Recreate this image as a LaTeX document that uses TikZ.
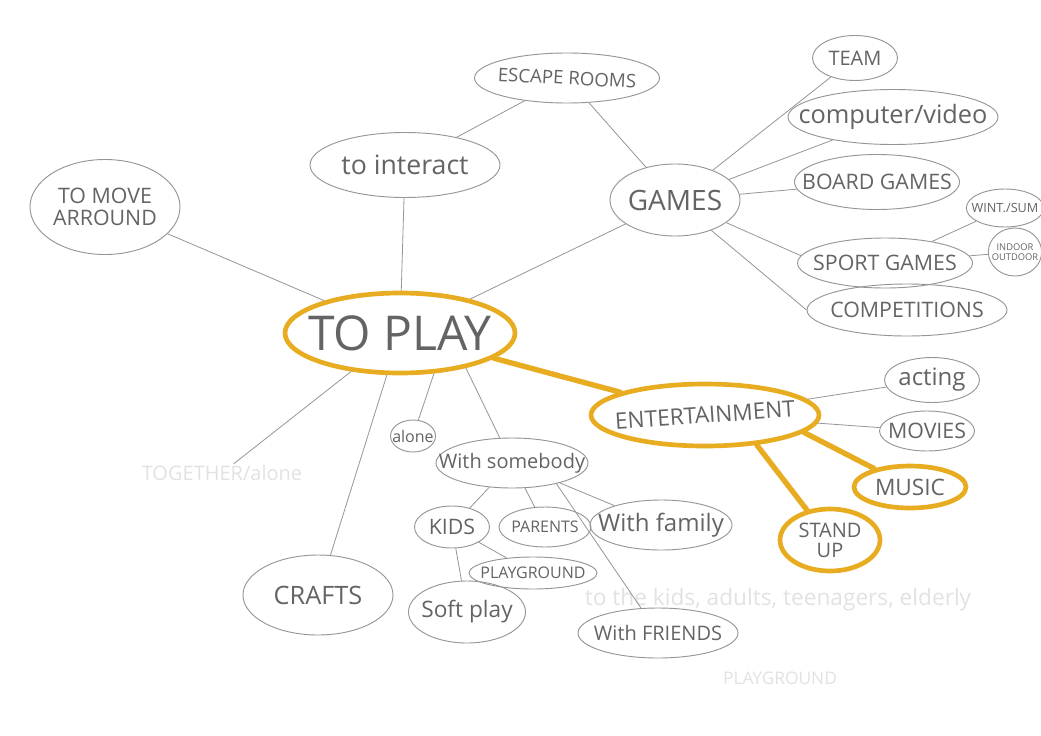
\documentclass[tikz,border=0pt]{standalone}
\usepackage{fontspec}
\setmainfont{Open Sans}
\usetikzlibrary{shapes.geometric}

\definecolor{pencil}{RGB}{150,150,150}
\definecolor{lead}{RGB}{100,100,100}
\definecolor{marker}{RGB}{232,172,32}
\definecolor{erased}{RGB}{226,226,226}
\newcommand{\pen}[1]{\fontsize{#1}{#1}\selectfont}

\tikzset{every picture/.style={line width=0.75pt}}
\tikzset{
  bubble/.style={ellipse, draw=pencil, line width=0.7pt, inner sep=0pt},
  hot/.style={bubble, draw=marker, line width=3.5pt},
  tag/.style={text=lead, align=center, inner sep=0pt},
  twig/.style={draw=pencil, line width=0.6pt},
  branch/.style={draw=marker, line width=4pt, line cap=round},
  ghost/.style={text=erased, inner sep=0.75pt},
}

\begin{document}
\begin{tikzpicture}[x=0.75pt,y=0.75pt,yscale=-1,xscale=1]
        %set diagram to the size of the sheet
        \fill [white] (0,0) rectangle (1041,735);
        \useasboundingbox (0,0) rectangle (1041,735);

        % Centre
        \node [hot, minimum width=172.5pt, minimum height=60pt, label={[tag,font=\pen{36}]center:TO PLAY}] (toplay) at (400,333) {};

        % Upper left
        \node [bubble, minimum width=112.5pt, minimum height=71.25pt, label={[tag,font=\pen{16}]center:TO MOVE\\ARROUND}] (move) at (105,207) {};
        \node [bubble, minimum width=142.5pt, minimum height=48.75pt, label={[tag,font=\pen{20}]center:to interact}] (interact) at (405,165) {};
        \node [bubble, minimum width=138.75pt, minimum height=37.5pt, label={[tag,font=\pen{14},rotate=-3]center:ESCAPE ROOMS}] (escape) at (567,78) {};

        % Games
        \node [bubble, minimum width=97.5pt, minimum height=54pt, label={[tag,font=\pen{21}]center:GAMES}] (games) at (675,200) {};
        \node [bubble, minimum width=63.75pt, minimum height=33.75pt, label={[tag,font=\pen{15}]center:TEAM}] (team) at (855,58) {};
        \node [bubble, minimum width=157.5pt, minimum height=41.25pt, label={[tag,font=\pen{19}]center:computer/video}] (computer) at (893,117) {};
        \node [bubble, minimum width=123.75pt, minimum height=41.25pt, label={[tag,font=\pen{16}]center:BOARD GAMES}] (board) at (877,182) {};
        \node [bubble, minimum width=131.25pt, minimum height=37.5pt, label={[tag,font=\pen{16}]center:SPORT GAMES}] (sport) at (885,263) {};
        \node [bubble, minimum width=58pt, minimum height=28.5pt, label={[tag,font=\pen{9.5}]center:WINT./SUM}] (season) at (1005,208) {};
        \node [bubble, minimum width=40pt, minimum height=36pt, label={[tag,font=\pen{7}]center:INDOOR\\OUTDOOR}] (place) at (1015,252) {};
        \node [bubble, minimum width=150pt, minimum height=39pt, label={[tag,font=\pen{16}]center:COMPETITIONS}] (compet) at (907,310) {};

        % Entertainment
        \node [hot, minimum width=171pt, minimum height=46.5pt, label={[tag,font=\pen{17},rotate=4]center:ENTERTAINMENT}] (entert) at (705,415) {};
        \node [bubble, minimum width=71.25pt, minimum height=33.75pt, label={[tag,font=\pen{18}]center:acting}] (acting) at (932,380) {};
        \node [bubble, minimum width=71.25pt, minimum height=30pt, label={[tag,font=\pen{16}]center:MOVIES}] (movies) at (927,431) {};
        \node [hot, minimum width=84pt, minimum height=31.5pt, label={[tag,font=\pen{17}]center:MUSIC}] (music) at (910,487) {};
        \node [hot, minimum width=75pt, minimum height=46.5pt, label={[tag,font=\pen{15}]center:STAND\\UP}] (standup) at (830,540) {};

        % Lower part
        \node [bubble, minimum width=33.75pt, minimum height=24pt, label={[tag,font=\pen{12}]center:alone}] (alone) at (413,436) {};
        \node [bubble, minimum width=114pt, minimum height=37.5pt, label={[tag,font=\pen{15}]center:With somebody}] (somebody) at (512,463) {};
        \node [bubble, minimum width=56.25pt, minimum height=31.5pt, label={[tag,font=\pen{16}]center:KIDS}] (kids) at (452,527) {};
        \node [bubble, minimum width=69pt, minimum height=30pt, label={[tag,font=\pen{12}]center:PARENTS}] (parents) at (545,527) {};
        \node [bubble, minimum width=106.5pt, minimum height=37.5pt, label={[tag,font=\pen{18}]center:With family}] (family) at (661,525) {};
        \node [bubble, minimum width=96pt, minimum height=24pt, label={[tag,font=\pen{12}]center:PLAYGROUND}] (playgr) at (533,573) {};
        \node [bubble, minimum width=87.75pt, minimum height=46.5pt, label={[tag,font=\pen{17}]center:Soft play}] (softplay) at (467,612) {};
        \node [bubble, minimum width=120pt, minimum height=37.5pt, label={[tag,font=\pen{15}]center:With FRIENDS}] (friends) at (658,633) {};
        \node [bubble, minimum width=112.5pt, minimum height=60pt, label={[tag,font=\pen{19}]center:CRAFTS}] (crafts) at (318,595) {};

        % Rubbed out notes
        \node [ghost, font=\pen{15}] (together) at (222,473) {TOGETHER/alone};
        \node [ghost, font=\pen{17}] (ages) at (778,600) {to the kids, adults, teenagers, elderly};
        \node [ghost, font=\pen{13}] (playnote) at (780,678) {PLAYGROUND};

        % Pencil lines
        \draw [twig] (toplay) -- (move);
        \draw [twig] (toplay) -- (interact);
        \draw [twig] (interact) -- (escape);
        \draw [twig] (escape) -- (games);
        \draw [twig] (toplay) -- (games);
        \draw [twig] (games) -- (team);
        \draw [twig] (games) -- (computer);
        \draw [twig] (games) -- (board);
        \draw [twig] (games) -- (sport.175);
        \draw [twig] (games) -- (compet.west);
        \draw [twig] (sport) -- (season);
        \draw [twig] (sport) -- (place);
        \draw [twig] (entert) -- (acting);
        \draw [twig] (entert) -- (movies);
        \draw [twig] (toplay) -- (together);
        \draw [twig] (toplay) -- (crafts);
        \draw [twig] (toplay.310) -- (alone);
        \draw [twig] (toplay.332) -- (somebody);
        \draw [twig] (somebody) -- (kids);
        \draw [twig] (somebody) -- (parents);
        \draw [twig] (somebody) -- (family);
        \draw [twig] (somebody.335) -- (friends);
        \draw [twig] (kids) -- (playgr);
        \draw [twig] (kids) -- (softplay);

        % Marker lines
        \draw [branch] (toplay) -- (entert);
        \draw [branch] (entert.350) -- (music);
        \draw [branch] (entert.330) -- (standup);

\end{tikzpicture}
\end{document}
